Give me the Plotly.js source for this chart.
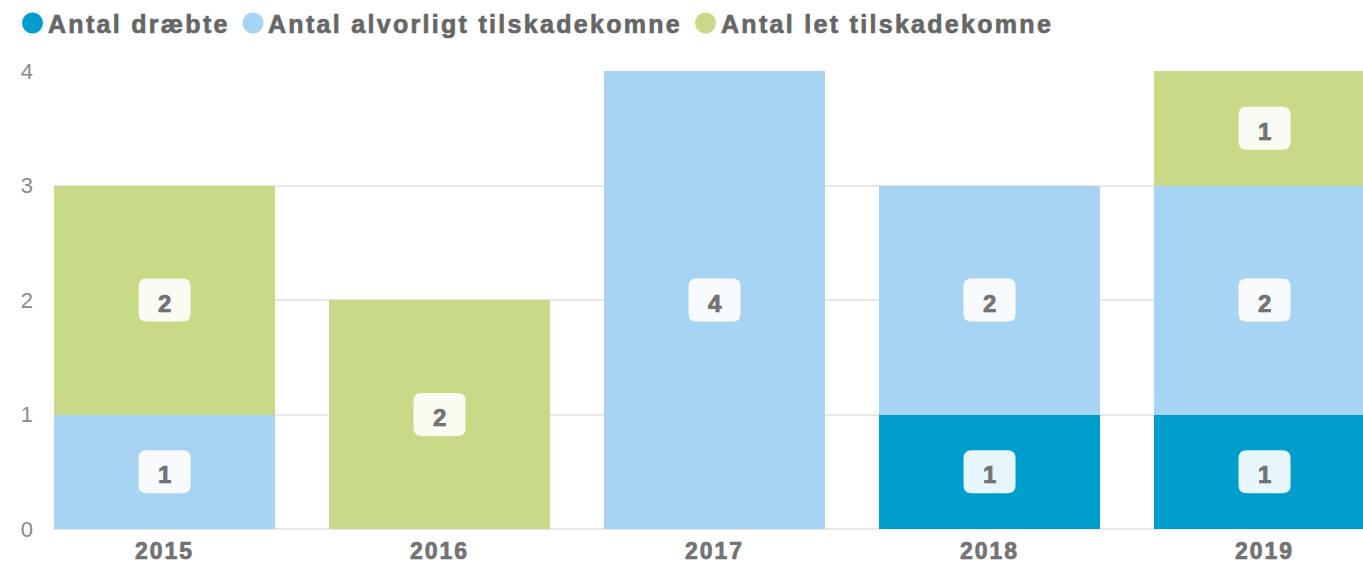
<!DOCTYPE html>
<html>
<head>
<meta charset="utf-8">
<script src="https://cdn.plot.ly/plotly-3.0.1.min.js"></script>
<style>
  html, body { margin: 0; padding: 0; background: #fff; }
  #chart { width: 1363px; height: 568px; }
  .annotation-text { letter-spacing: 2.3px; stroke: #6a6a6a; stroke-width: 0.7px; }
  .xtick text { letter-spacing: 2px; stroke: #6e6e6e; stroke-width: 0.7px; }
</style>
</head>
<body>
<div id="chart"></div>
<script>
// ---- data ----
const years = ["2015", "2016", "2017", "2018", "2019"];
const seriesNames = ["Antal dræbte", "Antal alvorligt tilskadekomne", "Antal let tilskadekomne"];
const killed = [0, 0, 0, 1, 1];
const seriousInjured = [1, 0, 4, 2, 2];
const lightInjured = [2, 2, 0, 0, 1];
const yTicks = [0, 1, 2, 3, 4];

// ---- styles ----
const colors = ["#009ecd", "#a8d4f4", "#c8d988"];
const seriesValues = [killed, seriousInjured, lightInjured];
const labelColor = "#747474";

const traces = seriesValues.map((vals, i) => ({
  type: "bar",
  name: seriesNames[i],
  x: years,
  y: vals,
  marker: { color: colors[i], line: { width: 0 } },
  hoverinfo: "none",
  showlegend: false
}));

// value label boxes + texts
const shapes = [];
const annotations = [];
const W = 26, H = 21.5, R = 8;
const boxPath = `M ${-W + R} ${-H} L ${W - R} ${-H} Q ${W} ${-H} ${W} ${-H + R} L ${W} ${H - R} Q ${W} ${H} ${W - R} ${H} L ${-W + R} ${H} Q ${-W} ${H} ${-W} ${H - R} L ${-W} ${-H + R} Q ${-W} ${-H} ${-W + R} ${-H} Z`;
years.forEach((yr, j) => {
  let base = 0;
  seriesValues.forEach((vals, i) => {
    const v = vals[j];
    if (v > 0) {
      const mid = base + v / 2;
      shapes.push({
        type: "path", xref: "x", yref: "y",
        xsizemode: "pixel", ysizemode: "pixel",
        xanchor: j, yanchor: mid,
        path: boxPath,
        fillcolor: "rgba(255,255,255,0.9)",
        line: { width: 0 },
        layer: "above"
      });
      annotations.push({
        xref: "x", yref: "y", x: j, y: mid,
        text: String(v), showarrow: false,
        xanchor: "center", yanchor: "middle", yshift: -3, xshift: 1,
        font: { family: "Liberation Sans, Arial, sans-serif", size: 24, color: labelColor, weight: "bold" }
      });
    }
    base += v;
  });
});

// custom legend (circle + text), positioned in pixels from plot-area left/top
const legendX = [32.5, 253, 705.5];
const legendTextX = [46, 266, 719];
seriesNames.forEach((name, i) => {
  shapes.push({
    type: "circle", xref: "paper", yref: "paper",
    xsizemode: "pixel", ysizemode: "pixel",
    xanchor: (legendX[i] - 54) / 1309, yanchor: (529 - 23) / 458,
    x0: -10.5, x1: 10.5, y0: -10.5, y1: 10.5,
    fillcolor: colors[i], line: { width: 0 }
  });
  annotations.push({
    xref: "paper", yref: "paper",
    x: (legendTextX[i] - 54) / 1309, y: (529 - 24) / 458,
    xanchor: "left", yanchor: "middle",
    text: name, showarrow: false,
    font: { family: "Liberation Sans, Arial, sans-serif", size: 25, color: "#666666", weight: "bold" }
  });
});

const layout = {
  width: 1363, height: 568,
  margin: { l: 54, r: 0, t: 71, b: 39 },
  paper_bgcolor: "#ffffff", plot_bgcolor: "#ffffff",
  barmode: "stack",
  bargap: 0.196,
  showlegend: false,
  xaxis: {
    type: "category",
    range: [-0.402, 4.358],
    showgrid: false, zeroline: false, showline: false,
    ticks: "",
    ticklabelstandoff: 6,
    tickfont: { family: "Liberation Sans, Arial, sans-serif", size: 23, color: labelColor, weight: "bold" },
    fixedrange: true
  },
  yaxis: {
    range: [0, 4],
    tickvals: yTicks,
    showgrid: true, gridcolor: "#e8e8e8", gridwidth: 2,
    zeroline: true, zerolinecolor: "#e8e8e8", zerolinewidth: 2,
    showline: false, ticks: "",
    ticklabelstandoff: 20,
    tickfont: { family: "Liberation Sans, Arial, sans-serif", size: 22, color: "#8a8a8a" },
    fixedrange: true
  },
  shapes: shapes,
  annotations: annotations
};

Plotly.newPlot("chart", traces, layout, { displayModeBar: false, staticPlot: true });
</script>
</body>
</html>
